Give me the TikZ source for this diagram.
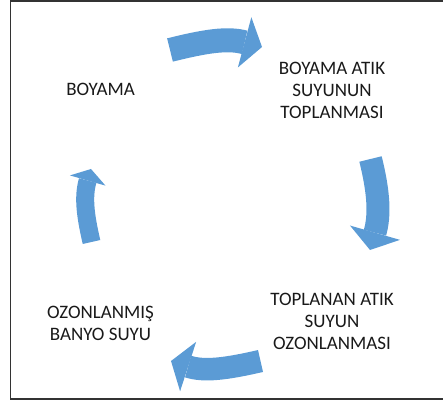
\documentclass[tikz,border=0pt]{standalone}
\usepackage{fontspec}
\setmainfont{Carlito}
\usetikzlibrary{arrows.meta}

\definecolor{cycleblue}{HTML}{5B9BD5}

\begin{document}
\begin{tikzpicture}[x=1pt, y=1pt]
    \useasboundingbox (0,0) rectangle (443,403);
    \draw[line width=1.3pt, black!80] (443,402) -- (10.5,402) -- (10.5,4) -- (443,4);

    \tikzset{StepText/.style={align=center, inner sep=0pt, text=black!90,
                              font=\fontsize{19}{22}\selectfont}}
    \node[StepText] (boyama)   at (100.5,313.5) {BOYAMA};
    \node[StepText] (toplama)  at (332,313)     {BOYAMA ATIK\\SUYUNUN\\TOPLANMASI};
    \node[StepText] (ozonlama) at (332,82)      {TOPLANAN ATIK\\SUYUN\\OZONLANMASI};
    \node[StepText] (banyo)    at (100.5,80)    {OZONLANMIŞ\\BANYO SUYU};

    \coordinate (topTail)    at (170,353);   \coordinate (topTip)    at (262,356);
    \coordinate (rightTail)  at (370.5,244); \coordinate (rightTip)  at (370,153);
    \coordinate (bottomTail) at (260.5,42);  \coordinate (bottomTip) at (171,42);
    \coordinate (leftTail)   at (91.5,161);  \coordinate (leftTip)   at (91,234);

    \tikzset{CycleArrow/.style={draw=cycleblue, line width=24pt,
                 -{Triangle[length=18pt, width=52pt, line width=0pt]}},
             SmallArrow/.style={draw=cycleblue, line width=18pt,
                 -{Triangle[length=12pt, width=37pt, line width=0pt]}}}
    \draw[CycleArrow] (topTail)    to[out=14,  in=165] (topTip);
    \draw[CycleArrow, line width=23pt] (rightTail) to[out=-76, in=74] (rightTip);
    \draw[CycleArrow, line width=22.5pt] (bottomTail) to[out=193, in=-18] (bottomTip);
    \draw[SmallArrow] (leftTail)   to[out=103, in=-106] (leftTip);
\end{tikzpicture}
\end{document}
